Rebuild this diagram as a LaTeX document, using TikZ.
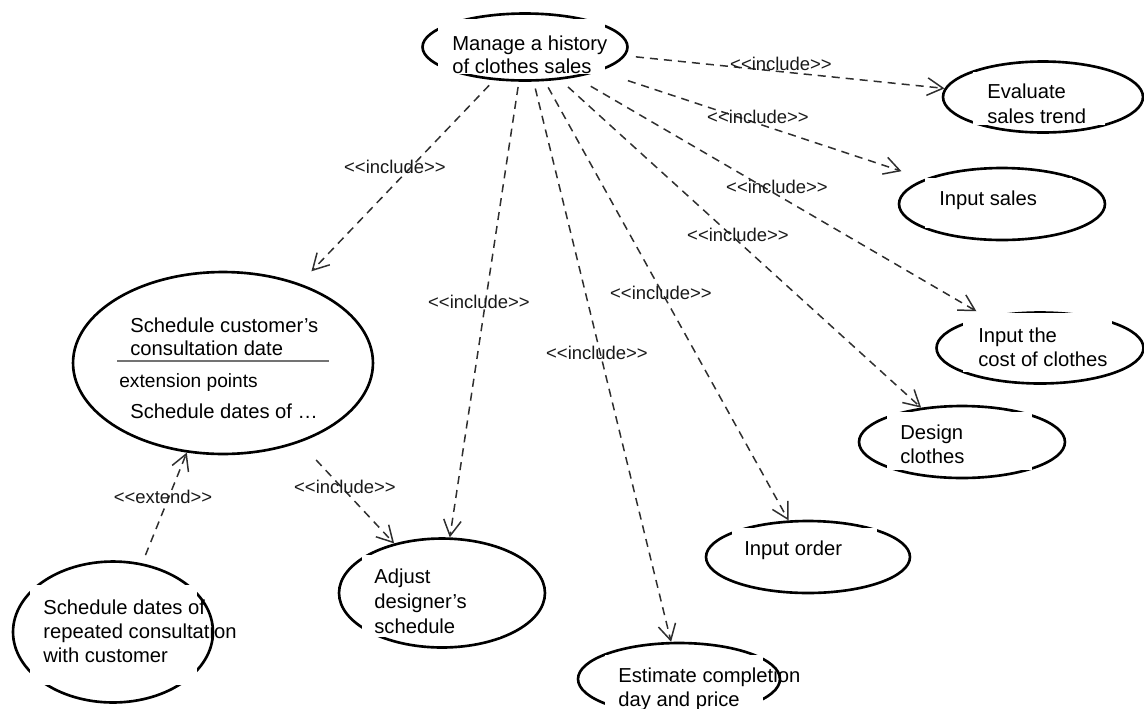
\documentclass[tikz,border=0pt]{standalone}
\usepackage{fontspec}
\setmainfont{Liberation Sans}
\usetikzlibrary{shapes.geometric,arrows.meta}
% stereotype label such as <<include>>; the kerns keep << and >> from turning into guillemets
\newcommand\stereo[1]{<\kern0pt<#1>\kern0pt>}
\begin{document}
\begin{tikzpicture}[x=0.02cm,y=-0.02cm,
  uc/.style={ellipse,draw=black,line width=1.5pt,inner sep=0pt},
  txt/.style={anchor=base west,inner sep=0pt,font=\fontsize{11.5}{13.6}\selectfont},
  smalltxt/.style={anchor=base west,inner sep=0pt,font=\fontsize{10.9}{13}\selectfont},
  lbl/.style={inner sep=0pt,font=\fontsize{10.5}{12}\selectfont,text=black!90},
  dep/.style={draw=black!82,line width=0.85pt,dash pattern=on 4.6pt off 3.4pt,
              -{Straight Barb[length=9pt,width=10pt]}},
  gap/.style={fill=white}]
\useasboundingbox (0,0) rectangle (1144,708);

% ---------- use cases ----------
\node[uc,minimum width=4.10cm,minimum height=1.34cm] (manage)   at (525,47)  {};
\node[uc,minimum width=4.00cm,minimum height=1.42cm] (evaluate) at (1043,97) {};
\node[uc,minimum width=4.12cm,minimum height=1.44cm] (isales)   at (1002,204) {};
\node[uc,minimum width=4.14cm,minimum height=1.42cm] (icost)    at (1040,348) {};
\node[uc,minimum width=4.12cm,minimum height=1.44cm] (design)   at (962,442) {};
\node[uc,minimum width=4.08cm,minimum height=1.44cm] (iorder)   at (808,557) {};
\node[uc,minimum width=4.04cm,minimum height=1.44cm] (estimate) at (679,679) {};
\node[uc,minimum width=4.12cm,minimum height=2.18cm] (adjust)   at (442,593) {};
\node[uc,minimum width=4.00cm,minimum height=2.82cm] (schedrep) at (113,632) {};
\node[uc,minimum width=6.00cm,minimum height=3.64cm] (schedcust) at (223,363) {};

% white text boxes over the outlines
\fill[gap] (438,19)  rectangle (605,74);
\fill[gap] (973,72)  rectangle (1105,125);
\fill[gap] (925,178) rectangle (1072,228);
\fill[gap] (963,313) rectangle (1112,372);
\fill[gap] (887,412) rectangle (1032,470);
\fill[gap] (732,528) rectangle (877,578);
\fill[gap] (605,655) rectangle (763,712);
\fill[gap] (362,555) rectangle (500,637);
\fill[gap] (30,585)  rectangle (197,685);

% ---------- use case names ----------
\node[txt] (manage-1) at (452,50) {Manage a history};
\node[txt] (manage-2) at (452,73) {of clothes sales};
\node[txt] (evaluate-1) at (987,98) {Evaluate};
\node[txt] (evaluate-2) at (987,123) {sales trend};
\node[txt] (isales-1) at (939,205) {Input sales};
\node[txt] (icost-1) at (978,342) {Input the};
\node[txt] (icost-2) at (978,366) {cost of clothes};
\node[txt] (design-1) at (900,439) {Design};
\node[txt] (design-2) at (900,463) {clothes};
\node[txt] (iorder-1) at (744,555) {Input order};
\node[txt] (estimate-1) at (618,682) {Estimate completion};
\node[txt] (estimate-2) at (618,706) {day and price};
\node[txt] (adjust-1) at (374,583) {Adjust};
\node[txt] (adjust-2) at (374,608) {designer’s};
\node[txt] (adjust-3) at (374,633) {schedule};
\node[txt] (schedrep-1) at (43,614) {Schedule dates of};
\node[txt] (schedrep-2) at (43,638) {repeated consultation};
\node[txt] (schedrep-3) at (43,662) {with customer};
\node[txt] (schedcust-1) at (130,332) {Schedule customer’s};
\node[txt] (schedcust-2) at (130,355) {consultation date};
\draw[black!55,line width=1.1pt] (117,361) -- (329,361);
\node[smalltxt] (schedcust-ext) at (119,387) {extension points};
\node[txt] (schedcust-pt) at (130,418) {Schedule dates of …};

% ---------- relationships ----------
\draw[dep,shorten <=6pt] (manage.-5) -- (evaluate.175);
\draw[dep,shorten <=17pt,shorten >=14pt] (manage.-18) -- (isales.162);
\draw[dep,shorten <=10pt,shorten >=6pt] (manage.-31) -- (icost.150);
\draw[dep,shorten <=6pt] (manage.-43) -- (design.140);
\draw[dep,shorten <=4pt] (manage.-60) -- (iorder.118);
\draw[dep,shorten <=4pt] (manage.-76) -- (estimate.102);
\draw[dep,shorten <=3pt] (manage.-100) -- (adjust.82);
\draw[dep,shorten <=4pt,shorten >=9.6pt] (manage.-133) -- (schedcust.46);
\draw[dep,shorten <=13.6pt] (schedcust.-46.5) -- (adjust.134);
\draw[dep,shorten <=5pt] (schedrep.67) -- (schedcust.-112);

% ---------- stereotypes ----------
\node[lbl] (l-evaluate) at (781,64)  {\stereo{include}};
\node[lbl] (l-isales)   at (758,117) {\stereo{include}};
\node[lbl] (l-icost)    at (777,187) {\stereo{include}};
\node[lbl] (l-design)   at (738,235) {\stereo{include}};
\node[lbl] (l-iorder)   at (661,293) {\stereo{include}};
\node[lbl] (l-estimate) at (597,353) {\stereo{include}};
\node[lbl] (l-adjust)   at (479,302) {\stereo{include}};
\node[lbl] (l-schedcust) at (395,167) {\stereo{include}};
\node[lbl] (l-adjust2)  at (345,487) {\stereo{include}};
\node[lbl] (l-extend)   at (163,497) {\stereo{extend}};
\end{tikzpicture}
\end{document}
